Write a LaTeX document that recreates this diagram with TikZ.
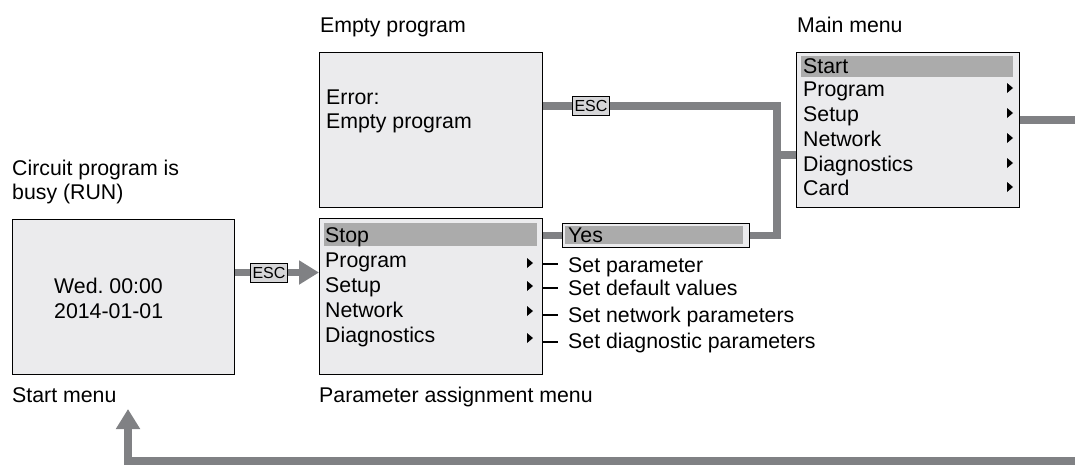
\documentclass[tikz,border=0pt]{standalone}
\usepackage{fontspec}
\setmainfont{Liberation Sans}
\usetikzlibrary{arrows.meta,calc}
\definecolor{scrfill}{RGB}{235,235,237}
\definecolor{hlgray}{RGB}{171,171,171}
\definecolor{conngray}{RGB}{128,129,132}
\definecolor{escfill}{RGB}{214,214,216}
\frenchspacing
\tikzset{
  screen/.style={draw=black, line width=1.3pt, fill=scrfill, inner sep=0pt, anchor=north west},
  lbl/.style={anchor=base west, inner sep=0pt},
  conn/.style={draw=conngray, line width=7.5pt},
  esctag/.style={draw=black, line width=0.9pt, fill=escfill, font=\fontsize{16}{16}\selectfont, inner xsep=2pt, inner ysep=0pt, minimum height=19pt},
  tickline/.style={draw=black, line width=1.8pt},
  bigtip/.style={-{Triangle[length=20pt,width=23pt]}},
  marr/.pic={\fill[black] (-3,-5) -- (3,0) -- (-3,5) -- cycle;}
}
\begin{document}
\begin{tikzpicture}[x=1pt, y=-1pt, font=\fontsize{21.3}{24}\selectfont]
\useasboundingbox (0,0) rectangle (1075,464);
\clip (0,0) rectangle (1075,464);

% screens
\node[screen, minimum width=222, minimum height=155] (start) at (12,219) {};
\node[screen, minimum width=223, minimum height=156] (param) at (319,218) {};
\node[screen, minimum width=223, minimum height=155] (empty) at (319,52) {};
\node[screen, minimum width=223, minimum height=155] (main) at (796,52) {};

% highlights
\fill[hlgray] (324,223) rectangle (537,246);
\fill[hlgray] (801,56) rectangle (1013,77);

% titles
\node[lbl] (tEmpty) at (320,32) {Empty program};
\node[lbl] (tMain) at (797,32) {Main menu};
\node[lbl] (tCirc1) at (12,175) {Circuit program is};
\node[lbl] (tCirc2) at (12,199) {busy (RUN)};
\node[lbl] (tStart) at (12,402) {Start menu};
\node[lbl] (tParam) at (319,402) {Parameter assignment menu};

% start screen text
\node[lbl] (w1) at (54,293) {Wed.\ 00:00};
\node[lbl] (w2) at (54,318) {2014-01-01};

% empty program text
\node[lbl] (e1) at (326,104) {Error:};
\node[lbl] (e2) at (326,128) {Empty program};

% parameter menu
\node[lbl] (p1) at (325,242) {Stop};
\node[lbl] (p2) at (325,267) {Program};
\node[lbl] (p3) at (325,292) {Setup};
\node[lbl] (p4) at (325,317) {Network};
\node[lbl] (p5) at (325,342) {Diagnostics};
\pic at (530,263) {marr};
\pic at (530,286) {marr};
\pic at (530,311) {marr};
\pic at (530,338) {marr};

% main menu
\node[lbl] (m1) at (803,73) {Start};
\node[lbl] (m2) at (803,96) {Program};
\node[lbl] (m3) at (803,121) {Setup};
\node[lbl] (m4) at (803,146) {Network};
\node[lbl] (m5) at (803,171) {Diagnostics};
\node[lbl] (m6) at (803,195) {Card};
\pic at (1010,88) {marr};
\pic at (1010,113) {marr};
\pic at (1010,138) {marr};
\pic at (1010,163) {marr};
\pic at (1010,187) {marr};

% Yes box
\node[screen, minimum width=187, minimum height=24] (yes) at (562,223) {};
\fill[hlgray] (565,226) rectangle (743,244);
\node[lbl] (yt) at (568,242) {Yes};

% set texts
\node[lbl] (s1) at (568,272) {Set parameter};
\node[lbl] (s2) at (568,295) {Set default values};
\node[lbl] (s3) at (568,322) {Set network parameters};
\node[lbl] (s4) at (568,348) {Set diagnostic parameters};
\coordinate (k1) at (558,264);
\coordinate (k2) at (558,288);
\coordinate (k3) at (558,315);
\coordinate (k4) at (558,342);
\draw[tickline] (param.east |- k1) -- (k1);
\draw[tickline] (param.east |- k2) -- (k2);
\draw[tickline] (param.east |- k3) -- (k3);
\draw[tickline] (param.east |- k4) -- (k4);

% connectors
\coordinate (c1) at (269,272.5);
\draw[conn, bigtip] (start.east |- c1) -- (param.west |- c1);
\node[esctag] (esc1) at (c1) {ESC};

\coordinate (c2) at (591,106);
\coordinate (j) at (777,155);
\draw[conn] (empty.east |- c2) -| (j) |- (yes.east);
\draw[conn] (j) -- (main.west |- j);
\draw[conn] (param.east |- yes.east) -- (yes.west);
\node[esctag] (esc2) at (c2) {ESC};

\coordinate (outR) at (1090,120);
\draw[conn] (main.east |- outR) -- (outR);

\coordinate (retR) at (1090,461);
\coordinate (retT) at (128,409);
\draw[conn, bigtip] (retR) -| (retT);
\end{tikzpicture}
\end{document}
